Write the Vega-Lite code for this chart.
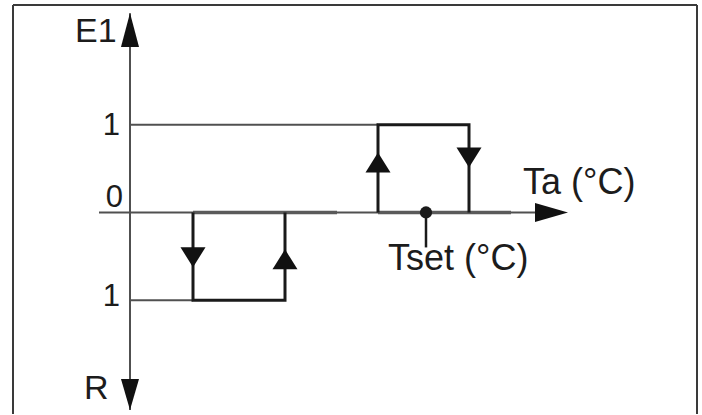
{
  "$schema": "https://vega.github.io/schema/vega-lite/v6.json",
  "width": 702,
  "height": 415,
  "autosize": {"type": "fit", "contains": "padding"},
  "padding": 0,
  "background": "white",
  "config": {"view": {"stroke": null}},
  "datasets": {
    "frame": [
      {"x": -11.7, "x2": 56.7, "y": 2.364, "y2": 2.364},
      {"x": -11.7, "x2": -11.7, "y": 2.364, "y2": -2.2955},
      {"x": 56.7, "x2": 56.7, "y": 2.364, "y2": -2.2955}
    ],
    "guides": [
      {"x": 0, "x2": 0, "y": 2.27, "y2": -2.25},
      {"x": 0, "x2": 24.8, "y": 1, "y2": 1},
      {"x": 0, "x2": 6.3, "y": -1, "y2": -1},
      {"x": -3.1, "x2": 42, "y": 0, "y2": 0}
    ],
    "thickZero": [
      {"x": 6.3, "x2": 20.7, "y": 0, "y2": 0},
      {"x": 24.8, "x2": 38.1, "y": 0, "y2": 0}
    ],
    "loops": [
      {"loop": "heat", "step": 1, "x": 24.8, "y": 0},
      {"loop": "heat", "step": 2, "x": 24.8, "y": 1},
      {"loop": "heat", "step": 3, "x": 33.9, "y": 1},
      {"loop": "heat", "step": 4, "x": 33.9, "y": 0},
      {"loop": "cool", "step": 1, "x": 6.3, "y": 0},
      {"loop": "cool", "step": 2, "x": 6.3, "y": -1},
      {"loop": "cool", "step": 3, "x": 15.5, "y": -1},
      {"loop": "cool", "step": 4, "x": 15.5, "y": 0}
    ],
    "arrows": [
      {"x": 24.8, "y": 0.568, "kind": "loop", "dir": "up"},
      {"x": 33.9, "y": 0.625, "kind": "loop", "dir": "down"},
      {"x": 6.3, "y": -0.511, "kind": "loop", "dir": "down"},
      {"x": 15.5, "y": -0.534, "kind": "loop", "dir": "up"},
      {"x": 0, "y": 2.08, "kind": "axis", "dir": "up"},
      {"x": 0, "y": -2.074, "kind": "axis", "dir": "down"},
      {"x": 42.15, "y": 0, "kind": "axis", "dir": "right"}
    ],
    "tset": [
      {"x": 29.6, "y": 0, "y2": -0.398}
    ],
    "axisLabels": [
      {"x": -5.5, "y": 1.943, "label": "E1"},
      {"x": -4.6, "y": -2.125, "label": "R"}
    ],
    "tempLabels": [
      {"x": 39.3, "y": 0.205, "label": "Ta (°C)"},
      {"x": 25.8, "y": -0.659, "label": "Tset (°C)"}
    ],
    "tickLabels": [
      {"x": -1.0, "y": 0.886, "label": "1"},
      {"x": -0.7, "y": 0.068, "label": "0"},
      {"x": -1.0, "y": -1.068, "label": "1"}
    ]
  },
  "layer": [
    {
      "data": {"name": "frame"},
      "mark": {"type": "rule", "color": "#3a3a3a", "strokeWidth": 2},
      "encoding": {
        "x": {"field": "x", "type": "quantitative", "scale": {"domain": [-13, 57.2], "nice": false, "zero": false}, "axis": null},
        "x2": {"field": "x2"},
        "y": {"field": "y", "type": "quantitative", "scale": {"domain": [-2.2955, 2.4205], "nice": false, "zero": false}, "axis": null},
        "y2": {"field": "y2"}
      }
    },
    {
      "data": {"name": "guides"},
      "mark": {"type": "rule", "color": "#505050", "strokeWidth": 2},
      "encoding": {
        "x": {"field": "x", "type": "quantitative"},
        "x2": {"field": "x2"},
        "y": {"field": "y", "type": "quantitative"},
        "y2": {"field": "y2"}
      }
    },
    {
      "data": {"name": "thickZero"},
      "mark": {"type": "rule", "color": "#5a5a5a", "strokeWidth": 3.5},
      "encoding": {
        "x": {"field": "x", "type": "quantitative"},
        "x2": {"field": "x2"},
        "y": {"field": "y", "type": "quantitative"},
        "y2": {"field": "y2"}
      }
    },
    {
      "data": {"name": "loops"},
      "mark": {"type": "line", "color": "#1a1a1a", "strokeWidth": 3, "strokeJoin": "miter", "strokeCap": "butt"},
      "encoding": {
        "x": {"field": "x", "type": "quantitative"},
        "y": {"field": "y", "type": "quantitative"},
        "detail": {"field": "loop"},
        "order": {"field": "step"}
      }
    },
    {
      "data": {"name": "tset"},
      "mark": {"type": "rule", "color": "#1a1a1a", "strokeWidth": 2.5},
      "encoding": {
        "x": {"field": "x", "type": "quantitative"},
        "y": {"field": "y", "type": "quantitative"},
        "y2": {"field": "y2"}
      }
    },
    {
      "data": {"name": "tset"},
      "mark": {"type": "point", "shape": "circle", "filled": true, "color": "#1a1a1a", "size": 150, "opacity": 1},
      "encoding": {
        "x": {"field": "x", "type": "quantitative"},
        "y": {"field": "y", "type": "quantitative"}
      }
    },
    {
      "data": {"name": "arrows"},
      "transform": [{"filter": "datum.kind === 'loop' && datum.dir === 'up'"}],
      "mark": {"type": "point", "filled": true, "color": "#111111", "size": 625, "opacity": 1, "shape": "M0,-0.8L1,0.8L-1,0.8Z"},
      "encoding": {
        "x": {"field": "x", "type": "quantitative"},
        "y": {"field": "y", "type": "quantitative"}
      }
    },
    {
      "data": {"name": "arrows"},
      "transform": [{"filter": "datum.kind === 'loop' && datum.dir === 'down'"}],
      "mark": {"type": "point", "filled": true, "color": "#111111", "size": 625, "opacity": 1, "shape": "M0,0.8L1,-0.8L-1,-0.8Z"},
      "encoding": {
        "x": {"field": "x", "type": "quantitative"},
        "y": {"field": "y", "type": "quantitative"}
      }
    },
    {
      "data": {"name": "arrows"},
      "transform": [{"filter": "datum.kind === 'axis' && datum.dir === 'up'"}],
      "mark": {"type": "point", "filled": true, "color": "#111111", "size": 1156, "opacity": 1, "shape": "M0,-1L0.53,1L-0.53,1Z"},
      "encoding": {
        "x": {"field": "x", "type": "quantitative"},
        "y": {"field": "y", "type": "quantitative"}
      }
    },
    {
      "data": {"name": "arrows"},
      "transform": [{"filter": "datum.kind === 'axis' && datum.dir === 'down'"}],
      "mark": {"type": "point", "filled": true, "color": "#111111", "size": 1156, "opacity": 1, "shape": "M0,0.91L0.53,-0.91L-0.53,-0.91Z"},
      "encoding": {
        "x": {"field": "x", "type": "quantitative"},
        "y": {"field": "y", "type": "quantitative"}
      }
    },
    {
      "data": {"name": "arrows"},
      "transform": [{"filter": "datum.kind === 'axis' && datum.dir === 'right'"}],
      "mark": {"type": "point", "filled": true, "color": "#111111", "size": 1156, "opacity": 1, "shape": "M0.97,0L-0.97,0.56L-0.97,-0.56Z"},
      "encoding": {
        "x": {"field": "x", "type": "quantitative"},
        "y": {"field": "y", "type": "quantitative"}
      }
    },
    {
      "data": {"name": "axisLabels"},
      "mark": {"type": "text", "align": "left", "baseline": "alphabetic", "font": "Liberation Sans", "fontSize": 34, "color": "#1c1c1c"},
      "encoding": {
        "x": {"field": "x", "type": "quantitative"},
        "y": {"field": "y", "type": "quantitative"},
        "text": {"field": "label"}
      }
    },
    {
      "data": {"name": "tempLabels"},
      "mark": {"type": "text", "align": "left", "baseline": "alphabetic", "font": "Liberation Sans", "fontSize": 36, "color": "#1c1c1c"},
      "encoding": {
        "x": {"field": "x", "type": "quantitative"},
        "y": {"field": "y", "type": "quantitative"},
        "text": {"field": "label"}
      }
    },
    {
      "data": {"name": "tickLabels"},
      "mark": {"type": "text", "align": "right", "baseline": "alphabetic", "font": "Liberation Sans", "fontSize": 31, "color": "#1c1c1c"},
      "encoding": {
        "x": {"field": "x", "type": "quantitative"},
        "y": {"field": "y", "type": "quantitative"},
        "text": {"field": "label"}
      }
    }
  ]
}
